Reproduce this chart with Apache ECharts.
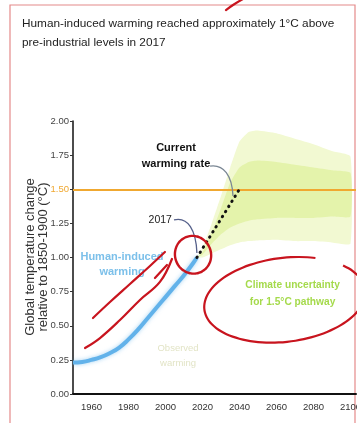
<!DOCTYPE html>
<html><head><meta charset="utf-8">
<script src="https://cdn.jsdelivr.net/npm/echarts@6/dist/echarts.min.js"></script>
<style>html,body{margin:0;padding:0;background:#fff}#c{width:357px;height:423px}</style>
</head><body><div id="c"></div>
<script>
// ---- data ----
const titleText = 'Human-induced warming reached approximately 1°C above\npre-industrial levels in 2017';
const yAxisTitle = 'Global temperature change\nrelative to 1850-1900 (°C)';
const histYears  = [1950, 1955, 1960, 1965, 1970, 1975, 1980, 1985, 1990, 1995, 2000, 2005, 2010, 2015, 2017];
const histValues = [0.23, 0.235, 0.25, 0.27, 0.30, 0.34, 0.40, 0.47, 0.55, 0.63, 0.71, 0.79, 0.87, 0.96, 1.00];
const rateYears  = [2017, 2040];
const rateValues = [1.00, 1.50];
const threshold  = 1.5;
const bandYears  = [2017, 2020, 2025, 2030, 2035, 2040, 2045, 2050, 2060, 2070, 2080, 2090, 2100];
const outerUpper = [1.00, 1.07, 1.25, 1.45, 1.66, 1.85, 1.92, 1.93, 1.91, 1.87, 1.83, 1.78, 1.74];
const innerUpper = [1.00, 1.04, 1.18, 1.36, 1.55, 1.66, 1.70, 1.71, 1.70, 1.68, 1.66, 1.64, 1.62];
const innerLower = [1.00, 1.02, 1.10, 1.17, 1.22, 1.25, 1.27, 1.28, 1.29, 1.29, 1.29, 1.30, 1.30];
const outerLower = [1.00, 1.00, 1.03, 1.06, 1.09, 1.11, 1.12, 1.125, 1.13, 1.12, 1.12, 1.11, 1.10];

const SANS = '"Liberation Sans", Arial, sans-serif';

const chart = echarts.init(document.getElementById('c'), null, {renderer: 'canvas'});

function bandSeries(upper, lower, color, z) {
  return {
    type: 'custom', coordinateSystem: 'cartesian2d', silent: true, z: z,
    data: [[bandYears[0], upper[0]]],
    renderItem: function (params, api) {
      const pts = [];
      for (let i = 0; i < bandYears.length; i++) pts.push(api.coord([bandYears[i], upper[i]]));
      for (let i = bandYears.length - 1; i >= 0; i--) pts.push(api.coord([bandYears[i], lower[i]]));
      return {type: 'polygon', shape: {points: pts, smooth: 0.15}, style: {fill: color}};
    }
  };
}

chart.setOption({
  animation: false,
  backgroundColor: '#ffffff',
  grid: {left: 73, right: 1, top: 121, bottom: 29, outerBoundsMode: 'none', containLabel: false},
  xAxis: {
    type: 'value', min: 1950, max: 2103, interval: 10,
    axisLine: {show: true, lineStyle: {color: '#111', width: 2}},
    axisTick: {show: false},
    splitLine: {show: false},
    axisLabel: {
      margin: 8, color: '#333', fontFamily: SANS, fontSize: 9.5,
      formatter: v => (v % 20 === 0 && v >= 1960 && v <= 2100) ? String(v) : ''
    }
  },
  yAxis: {
    type: 'value', min: 0, max: 2, interval: 0.25,
    axisLine: {show: true, lineStyle: {color: '#111', width: 1.5}},
    axisTick: {show: true, length: 3, lineStyle: {color: '#333'}},
    splitLine: {show: false},
    axisLabel: {
      margin: 4, fontFamily: SANS, fontSize: 9.5,
      color: v => (Math.abs(v - threshold) < 1e-6 ? '#f0a830' : '#444'),
      formatter: v => v.toFixed(2)
    }
  },
  series: [
    bandSeries(outerUpper, outerLower, '#f2f9d2', 1),
    bandSeries(innerUpper, innerLower, '#e4f3ab', 2),
    {
      type: 'line', data: histYears.map((y, i) => [y, histValues[i]]),
      smooth: true, showSymbol: false, z: 4, silent: true,
      lineStyle: {color: '#62b2ea', width: 4, shadowBlur: 4, shadowColor: 'rgba(98,178,234,0.55)'}
    },
    {
      type: 'line', data: rateYears.map((y, i) => [y, rateValues[i]]),
      showSymbol: false, z: 6, silent: true,
      lineStyle: {color: '#111', width: 3, type: [0.5, 5.5], cap: 'round'},
      markLine: {
        silent: true, symbol: 'none', label: {show: false},
        lineStyle: {color: '#f0a830', width: 2, type: 'solid'},
        data: [{yAxis: threshold}]
      }
    }
  ]
});

// ---- annotations anchored in data coordinates ----
const P = (yr, v) => chart.convertToPixel({gridIndex: 0}, [yr, v]);
const RED = '#c8141e';

function ellipsePts(c, rx, ry, rotDeg, t0, t1) {
  const a = rotDeg * Math.PI / 180, pts = [];
  for (let t = t0; t <= t1; t += 6) {
    const r = t * Math.PI / 180;
    const ex = rx * Math.cos(r), ey = ry * Math.sin(r);
    pts.push([c[0] + ex * Math.cos(a) - ey * Math.sin(a), c[1] + ex * Math.sin(a) + ey * Math.cos(a)]);
  }
  return pts;
}
function poly(ptsData, w) {
  return {type: 'polyline', z: 50, silent: true,
    shape: {points: ptsData.map(p => P(p[0], p[1])), smooth: 0.4},
    style: {stroke: RED, lineWidth: w || 2.2, fill: null, lineCap: 'round'}};
}
function bez(a, c1, c2, b, color) {
  const A = P(a[0], a[1]), C1 = P(c1[0], c1[1]), C2 = P(c2[0], c2[1]), B = P(b[0], b[1]);
  return {type: 'bezierCurve', z: 40, silent: true,
    shape: {x1: A[0], y1: A[1], cpx1: C1[0], cpy1: C1[1], cpx2: C2[0], cpy2: C2[1], x2: B[0], y2: B[1]},
    style: {stroke: color, lineWidth: 1.3, fill: null}};
}
function label(text, at, font, color, lh, align) {
  const p = P(at[0], at[1]);
  return {type: 'text', z: 45, silent: true, x: p[0], y: p[1],
    style: {text: text, font: font, fill: color, align: align || 'center', verticalAlign: 'middle', lineHeight: lh}};
}

const smallC = P(2014.9, 1.02);
const bigC = P(2064.5, 0.69);

chart.setOption({
  graphic: [
    {type: 'rect', z: 0, silent: true, shape: {x: 10, y: 5, width: 345, height: 440},
     style: {stroke: '#e48a8a', lineWidth: 1.2, fill: null}},
    {type: 'text', z: 45, silent: true, x: 22, y: 14,
     style: {text: titleText, font: '11.8px ' + SANS, fill: '#222', lineHeight: 19}},
    {type: 'text', z: 45, silent: true, x: 37, y: 257, rotation: Math.PI / 2,
     style: {text: yAxisTitle, font: '13px ' + SANS, fill: '#333', align: 'center', verticalAlign: 'middle', lineHeight: 12.5}},
    label('Current\nwarming rate', [2005.7, 1.743], 'bold 11px ' + SANS, '#111', 16),
    label('2017', [2003.5, 1.275], '10.5px ' + SANS, '#222', 12, 'right'),
    label('Human-induced\nwarming', [1976.5, 0.949], 'bold 11px ' + SANS, '#7cc0ea', 15),
    label('Observed\nwarming', [2006.8, 0.282], '9.5px ' + SANS, '#e2e4c6', 15),
    label('Climate uncertainty\nfor 1.5°C pathway', [2068.7, 0.736], 'bold 10.2px ' + SANS, '#a5da4c', 17),
    bez([2024.1, 1.670], [2031.5, 1.685], [2036, 1.60], [2036.5, 1.451], '#7a8794'),
    bez([2004.6, 1.275], [2012.2, 1.30], [2016.5, 1.20], [2017.0, 1.033], '#55608a'),
    // hand-drawn red ink
    {type: 'polyline', z: 50, silent: true, shape: {points: ellipsePts(smallC, 18, 19, -20, -200, 170), smooth: 0.3},
     style: {stroke: RED, lineWidth: 2.4, fill: null}},
    {type: 'polyline', z: 50, silent: true, shape: {points: ellipsePts(bigC, 81, 42, -7, -40, 300), smooth: 0.3},
     style: {stroke: RED, lineWidth: 2.2, fill: null}},
    poly([[1960.8, 0.557], [1970.0, 0.674], [1980.8, 0.806], [1991.6, 0.938], [1999.7, 1.040]]),
    poly([[1956.5, 0.337], [1964.6, 0.410], [1975.4, 0.542], [1986.2, 0.689], [1997.0, 0.821], [2003.5, 0.989]]),
    poly([[1994.3, 0.850], [2000.8, 0.945]]),
    poly([[2032.7, 2.813], [2036.5, 2.850], [2041.9, 2.894]])
  ]
});
</script>
</body></html>
